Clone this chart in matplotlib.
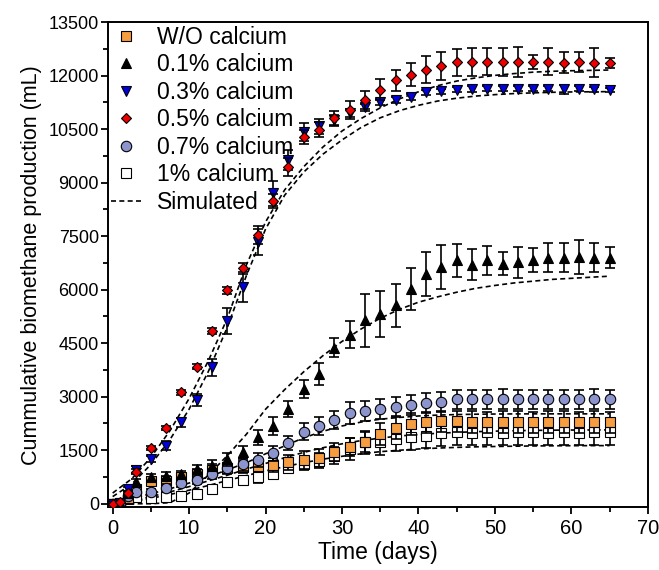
import matplotlib.pyplot as plt
import numpy as np
from matplotlib.ticker import MultipleLocator

plt.rcParams['font.family'] = ['Liberation Sans', 'DejaVu Sans']

# Days at which biomethane was measured
days = [0, 1, 2, 3, 5, 7, 9, 11, 13, 15, 17, 19, 21, 23, 25, 27, 29, 31, 33, 35,
        37, 39, 41, 43, 45, 47, 49, 51, 53, 55, 57, 59, 61, 63, 65]

# Measured cumulative biomethane (mL) and error bars
wo_mean = [0, 20, 150, 410, 650, 650, 740, 830, 950, 1000, 1040, 1070, 1095, 1160,
           1235, 1280, 1440, 1580, 1720, 1955, 2125, 2240, 2280, 2310,
           2310, 2290, 2285, 2290, 2290, 2285, 2290, 2290, 2285, 2290, 2285]
wo_err = [0, 0, 30, 80, 100, 120, 120, 130, 150, 150, 170, 180, 200, 220,
          250, 250, 250, 250, 280, 300, 300, 300, 300, 300,
          300, 300, 300, 300, 300, 300, 300, 300, 300, 300, 300]

c01_mean = [0, 20, 300, 600, 740, 790, 830, 970, 1070, 1250, 1440, 1860, 2190, 2660,
            3220, 3640, 4370, 4740, 5140, 5320, 5560, 6030, 6450, 6630,
            6820, 6700, 6820, 6730, 6770, 6840, 6900, 6900, 6930, 6900, 6900]
c01_err = [0, 0, 50, 80, 100, 100, 100, 120, 150, 180, 190, 200, 250, 233,
           243, 300, 270, 374, 750, 655, 608, 590, 620, 620,
           450, 435, 420, 330, 435, 340, 405, 405, 477, 405, 300]

c03_mean = [0, 30, 420, 950, 1260, 1630, 2280, 2900, 3830, 5120, 6090, 7340, 8710, 9630,
            10420, 10580, 10750, 10960, 11110, 11260, 11310, 11400, 11540, 11570,
            11610, 11630, 11640, 11630, 11640, 11630, 11630, 11620, 11630, 11620, 11610]
c03_err = [0, 0, 50, 100, 80, 120, 130, 170, 235, 360, 420, 375, 350, 280,
           250, 220, 150, 120, 100, 90, 80, 80, 70, 70,
           70, 80, 70, 70, 70, 70, 70, 120, 70, 70, 60]

c05_mean = [0, 50, 290, 900, 1560, 2120, 3120, 3845, 4840, 5980, 6600, 7540, 8490, 9440,
            10280, 10490, 10820, 11050, 11330, 11610, 11870, 12030, 12170, 12270,
            12380, 12380, 12390, 12380, 12390, 12380, 12390, 12370, 12380, 12370, 12360]
c05_err = [0, 0, 30, 60, 50, 50, 60, 60, 80, 100, 150, 250, 200, 250,
           200, 200, 200, 250, 250, 300, 300, 330, 380, 400,
           380, 400, 380, 400, 420, 200, 380, 300, 280, 400, 150]

c07_mean = [0, 0, 220, 320, 340, 440, 570, 660, 830, 990, 1100, 1230, 1410, 1700,
            2020, 2190, 2350, 2545, 2590, 2660, 2720, 2770, 2835, 2865,
            2925, 2930, 2930, 2935, 2930, 2930, 2925, 2930, 2930, 2935, 2925]
c07_err = [0, 0, 40, 60, 80, 100, 100, 120, 150, 150, 180, 200, 220, 205,
           230, 250, 250, 300, 280, 280, 270, 280, 280, 280,
           270, 270, 270, 270, 270, 270, 270, 270, 270, 270, 270]

c1_mean = [0, 0, 130, 180, 170, 190, 220, 280, 410, 600, 660, 740, 840, 1000,
           1115, 1210, 1350, 1535, 1720, 1720, 1815, 1860, 1910, 1970,
           2000, 1995, 2005, 1995, 2000, 2005, 1995, 2000, 1995, 2005, 2000]
c1_err = [0, 0, 30, 50, 50, 60, 70, 80, 100, 100, 120, 150, 150, 150,
          170, 200, 250, 300, 330, 350, 350, 350, 350, 350,
          350, 350, 350, 350, 350, 350, 350, 350, 350, 350, 350]

# Simulated curves
sim_days = [0, 2.5, 5, 7.5, 10, 12.5, 15, 17.5, 20, 22.5, 25, 27.5, 30, 32.5, 35,
            37.5, 40, 42.5, 45, 47.5, 50, 52.5, 55, 57.5, 60, 62.5, 65]
sim_05 = [300, 700, 1300, 2050, 2950, 4000, 5200, 6700, 7900, 8800, 9450, 10000, 10450, 10800,
          11100, 11350, 11550, 11720, 11850, 11940, 12010, 12060, 12100, 12125, 12140, 12150, 12160]
sim_03 = [200, 550, 1100, 1800, 2650, 3700, 4950, 6400, 7700, 8650, 9300, 9800, 10200, 10550,
          10820, 11020, 11170, 11290, 11370, 11430, 11470, 11500, 11520, 11535, 11545, 11550, 11555]
sim_01 = [0, 0, 0, 30, 300, 800, 1350, 1950, 2650, 3200, 3700, 4150, 4550, 4900,
          5200, 5450, 5650, 5800, 5930, 6040, 6120, 6190, 6240, 6290, 6320, 6350, 6380]
sim_07 = [50, 150, 280, 420, 580, 750, 950, 1150, 1400, 1620, 1850, 2030, 2180, 2290,
          2370, 2420, 2460, 2485, 2500, 2510, 2515, 2518, 2520, 2520, 2520, 2520, 2520]
sim_wo = [0, 80, 200, 330, 480, 640, 800, 970, 1130, 1290, 1440, 1570, 1680, 1770,
          1840, 1900, 1940, 1975, 2000, 2020, 2035, 2047, 2056, 2062, 2066, 2068, 2070]
sim_1 = [0, 60, 150, 260, 380, 510, 650, 790, 920, 1040, 1150, 1250, 1330, 1400,
         1460, 1500, 1535, 1560, 1580, 1595, 1605, 1613, 1620, 1624, 1627, 1629, 1630]

fig = plt.figure(figsize=(6.59, 5.70), dpi=100)
ax = fig.add_axes([0.164, 0.110, 0.819, 0.851])

# dashed simulated lines first, so markers sit on top
dash = dict(color='black', linestyle=(0, (3, 2)), linewidth=1.2, zorder=1)
for s in [sim_05, sim_03, sim_01, sim_07, sim_wo, sim_1]:
    ax.plot(sim_days, s, **dash)

# series style: (mean, err, marker, face, size, label)
series = [
    (c1_mean, c1_err, 's', 'white', 6.5, '1% calcium'),
    (wo_mean, wo_err, 's', '#F59D40', 6.5, 'W/O calcium'),
    (c07_mean, c07_err, 'o', '#8C94CE', 7.5, '0.7% calcium'),
    (c01_mean, c01_err, '^', 'black', 6.5, '0.1% calcium'),
    (c03_mean, c03_err, 'v', '#0000DD', 7, '0.3% calcium'),
    (c05_mean, c05_err, 'D', '#EE0000', 5.5, '0.5% calcium'),
]
handles = {}
for i, (m, e, mk, fc, ms, lab) in enumerate(series):
    ax.errorbar(days, m, yerr=e, fmt='none', ecolor='black', elinewidth=1.2,
                capsize=3.5, capthick=1.2, zorder=2 + 2 * i)
    h, = ax.plot(days, m, linestyle='none', marker=mk, markersize=ms,
                 markerfacecolor=fc, markeredgecolor='black', markeredgewidth=0.8,
                 zorder=3 + 2 * i, label=lab)
    handles[lab] = h
sim_handle, = ax.plot([], [], color='black', linestyle=(0, (3, 2)), linewidth=1.2, label='Simulated')

order = ['W/O calcium', '0.1% calcium', '0.3% calcium', '0.5% calcium', '0.7% calcium', '1% calcium']
ax.legend([handles[k] for k in order] + [sim_handle], order + ['Simulated'],
          loc='upper left', frameon=False, fontsize=16.5, handlelength=1.3,
          handletextpad=0.7, labelspacing=0.2, borderaxespad=0.0,
          bbox_to_anchor=(-0.012, 1.012))

ax.set_xlim(-0.6, 70)
ax.set_ylim(-100, 13500)
ax.xaxis.set_major_locator(MultipleLocator(10))
ax.xaxis.set_minor_locator(MultipleLocator(5))
ax.yaxis.set_major_locator(MultipleLocator(1500))
ax.yaxis.set_minor_locator(MultipleLocator(750))
ax.tick_params(which='both', direction='out', top=False, right=False, width=1.3, labelsize=14.5)
ax.tick_params(axis='y', labelsize=13, pad=1.5)
ax.tick_params(which='major', length=5)
ax.tick_params(which='minor', length=3.5)
for sp in ax.spines.values():
    sp.set_linewidth(1.4)

ax.set_xlabel('Time (days)', fontsize=16.5, labelpad=2)
ax.set_ylabel('Cummulative biomethane production (mL)', fontsize=15.5, labelpad=5)

fig.savefig('out.png', dpi=100)
